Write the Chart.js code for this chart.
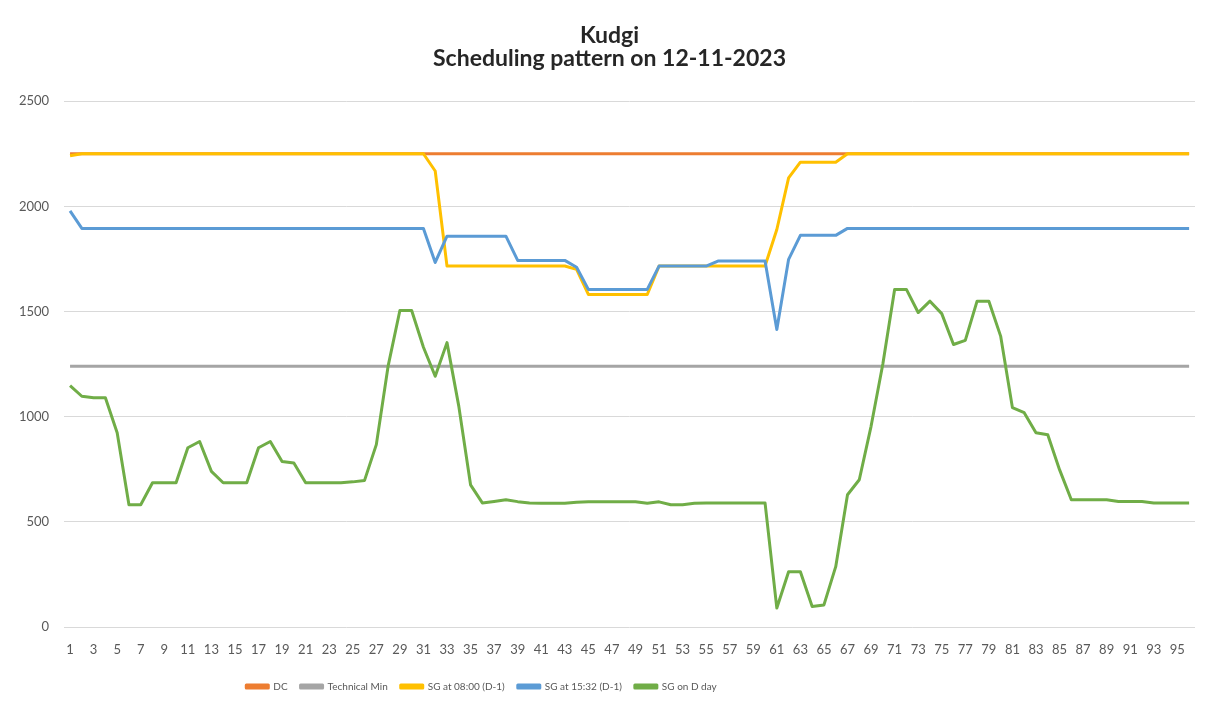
<!DOCTYPE html>
<html>
<head>
<meta charset="utf-8">
<script src="https://cdn.jsdelivr.net/npm/chart.js@4/dist/chart.umd.min.js"></script>
<style>
    body { margin: 0; background: #ffffff; }
    #wrap { width: 1213px; height: 704px; position: relative; }
</style>
</head>
<body>
<div id="wrap"><canvas id="kudgiChart"></canvas></div>
<script>
// time blocks 1..96
const blocks = [1, 2, 3, 4, 5, 6, 7, 8, 9, 10, 11, 12, 13, 14, 15, 16, 17, 18, 19, 20, 21, 22, 23, 24,
    25, 26, 27, 28, 29, 30, 31, 32, 33, 34, 35, 36, 37, 38, 39, 40, 41, 42, 43, 44, 45, 46, 47, 48,
    49, 50, 51, 52, 53, 54, 55, 56, 57, 58, 59, 60, 61, 62, 63, 64, 65, 66, 67, 68, 69, 70, 71, 72,
    73, 74, 75, 76, 77, 78, 79, 80, 81, 82, 83, 84, 85, 86, 87, 88, 89, 90, 91, 92, 93, 94, 95, 96];

const dcValues = [2250, 2250, 2250, 2250, 2250, 2250, 2250, 2250, 2250, 2250, 2250, 2250, 2250, 2250, 2250, 2250,
    2250, 2250, 2250, 2250, 2250, 2250, 2250, 2250, 2250, 2250, 2250, 2250, 2250, 2250, 2250, 2250,
    2250, 2250, 2250, 2250, 2250, 2250, 2250, 2250, 2250, 2250, 2250, 2250, 2250, 2250, 2250, 2250,
    2250, 2250, 2250, 2250, 2250, 2250, 2250, 2250, 2250, 2250, 2250, 2250, 2250, 2250, 2250, 2250,
    2250, 2250, 2250, 2250, 2250, 2250, 2250, 2250, 2250, 2250, 2250, 2250, 2250, 2250, 2250, 2250,
    2250, 2250, 2250, 2250, 2250, 2250, 2250, 2250, 2250, 2250, 2250, 2250, 2250, 2250, 2250, 2250];

const techMin = [1240, 1240, 1240, 1240, 1240, 1240, 1240, 1240, 1240, 1240, 1240, 1240, 1240, 1240, 1240, 1240,
    1240, 1240, 1240, 1240, 1240, 1240, 1240, 1240, 1240, 1240, 1240, 1240, 1240, 1240, 1240, 1240,
    1240, 1240, 1240, 1240, 1240, 1240, 1240, 1240, 1240, 1240, 1240, 1240, 1240, 1240, 1240, 1240,
    1240, 1240, 1240, 1240, 1240, 1240, 1240, 1240, 1240, 1240, 1240, 1240, 1240, 1240, 1240, 1240,
    1240, 1240, 1240, 1240, 1240, 1240, 1240, 1240, 1240, 1240, 1240, 1240, 1240, 1240, 1240, 1240,
    1240, 1240, 1240, 1240, 1240, 1240, 1240, 1240, 1240, 1240, 1240, 1240, 1240, 1240, 1240, 1240];

const sg0800 = [2240, 2250, 2250, 2250, 2250, 2250, 2250, 2250, 2250, 2250, 2250, 2250, 2250, 2250, 2250, 2250,
    2250, 2250, 2250, 2250, 2250, 2250, 2250, 2250, 2250, 2250, 2250, 2250, 2250, 2250, 2250, 2168,
    1716, 1716, 1716, 1716, 1716, 1716, 1716, 1716, 1716, 1716, 1716, 1700, 1581, 1581, 1581, 1581,
    1581, 1581, 1716, 1716, 1716, 1716, 1716, 1716, 1716, 1716, 1716, 1716, 1890, 2135, 2210, 2210,
    2210, 2210, 2250, 2250, 2250, 2250, 2250, 2250, 2250, 2250, 2250, 2250, 2250, 2250, 2250, 2250,
    2250, 2250, 2250, 2250, 2250, 2250, 2250, 2250, 2250, 2250, 2250, 2250, 2250, 2250, 2250, 2250];

const sg1532 = [1978, 1895, 1895, 1895, 1895, 1895, 1895, 1895, 1895, 1895, 1895, 1895, 1895, 1895, 1895, 1895,
    1895, 1895, 1895, 1895, 1895, 1895, 1895, 1895, 1895, 1895, 1895, 1895, 1895, 1895, 1895, 1733,
    1858, 1858, 1858, 1858, 1858, 1858, 1743, 1743, 1743, 1743, 1743, 1710, 1605, 1605, 1605, 1605,
    1605, 1605, 1716, 1716, 1716, 1716, 1716, 1740, 1740, 1740, 1740, 1740, 1414, 1748, 1862, 1862,
    1862, 1862, 1895, 1895, 1895, 1895, 1895, 1895, 1895, 1895, 1895, 1895, 1895, 1895, 1895, 1895,
    1895, 1895, 1895, 1895, 1895, 1895, 1895, 1895, 1895, 1895, 1895, 1895, 1895, 1895, 1895, 1895];

const sgDday = [1148, 1097, 1090, 1090, 924, 581, 581, 686, 686, 686, 852, 882, 740, 686, 686, 686,
    852, 882, 787, 780, 686, 686, 686, 686, 690, 697, 867, 1240, 1505, 1505, 1330, 1192,
    1352, 1050, 676, 590, 597, 605, 596, 590, 588, 588, 588, 593, 595, 595, 595, 595,
    595, 588, 595, 581, 581, 588, 590, 590, 590, 590, 590, 590, 90, 263, 263, 97,
    105, 287, 629, 700, 954, 1250, 1605, 1605, 1495, 1549, 1490, 1343, 1363, 1549, 1549, 1383,
    1043, 1019, 924, 914, 748, 605, 605, 605, 605, 597, 597, 597, 590, 590, 590, 590];

const titleLines = ['Kudgi', 'Scheduling pattern on 12-11-2023'];

const textGray = '#595959';

function lineSet(label, data, color, order) {
    return {
        label: label,
        data: data,
        borderColor: color,
        backgroundColor: color,
        borderWidth: 3,
        pointRadius: 0,
        tension: 0,
        borderJoinStyle: 'round',
        order: order
    };
}

// in the original the legend sits left of centre and the title a bit right
const boxShift = {
    id: 'boxShift',
    afterLayout(chart) {
        chart.legend.left -= 118;
        chart.legend.right -= 118;
        chart.titleBlock.left += 10;
        chart.titleBlock.right += 10;
    }
};

const ctx = document.getElementById('kudgiChart').getContext('2d');

new Chart(ctx, {
    type: 'line',
    data: {
        labels: blocks,
        datasets: [
            lineSet('DC', dcValues, '#ED7D31', 5),
            lineSet('Technical Min', techMin, '#A5A5A5', 4),
            lineSet('SG at 08:00 (D-1)', sg0800, '#FFC000', 3),
            lineSet('SG at 15:32 (D-1)', sg1532, '#5B9BD5', 2),
            lineSet('SG on D day', sgDday, '#70AD47', 1)
        ]
    },
    plugins: [boxShift],
    options: {
        responsive: true,
        maintainAspectRatio: false,
        animation: false,
        layout: {
            padding: { left: 4, right: 18, top: 0, bottom: 2.5 }
        },
        plugins: {
            title: {
                display: true,
                text: titleLines,
                color: '#262626',
                font: { family: 'Lato', size: 23, weight: 'bold', lineHeight: 0.96 },
                padding: { top: 25, bottom: 32 }
            },
            legend: {
                position: 'bottom',
                labels: {
                    boxWidth: 22,
                    boxHeight: 3,
                    padding: 13,
                    color: textGray,
                    font: { family: 'Lato', size: 10 },
                    sort: (a, b) => a.datasetIndex - b.datasetIndex
                }
            },
            tooltip: { enabled: false }
        },
        scales: {
            x: {
                offset: true,
                grid: { display: false },
                border: { display: false },
                ticks: {
                    autoSkip: false,
                    maxRotation: 0,
                    padding: 7,
                    color: textGray,
                    font: { family: 'Lato', size: 13 },
                    callback: function (value, index) {
                        return index % 2 === 0 ? blocks[index] : '';
                    }
                },
                afterFit: function (scale) {
                    scale.height = 41.5;
                }
            },
            y: {
                min: 0,
                max: 2500,
                grid: { color: '#d9d9d9', lineWidth: 1, drawTicks: false },
                border: { display: false },
                ticks: {
                    stepSize: 500,
                    padding: 15,
                    color: textGray,
                    font: { family: 'Lato', size: 13 },
                    callback: function (value) {
                        return value;
                    }
                }
            }
        }
    }
});
</script>
</body>
</html>
